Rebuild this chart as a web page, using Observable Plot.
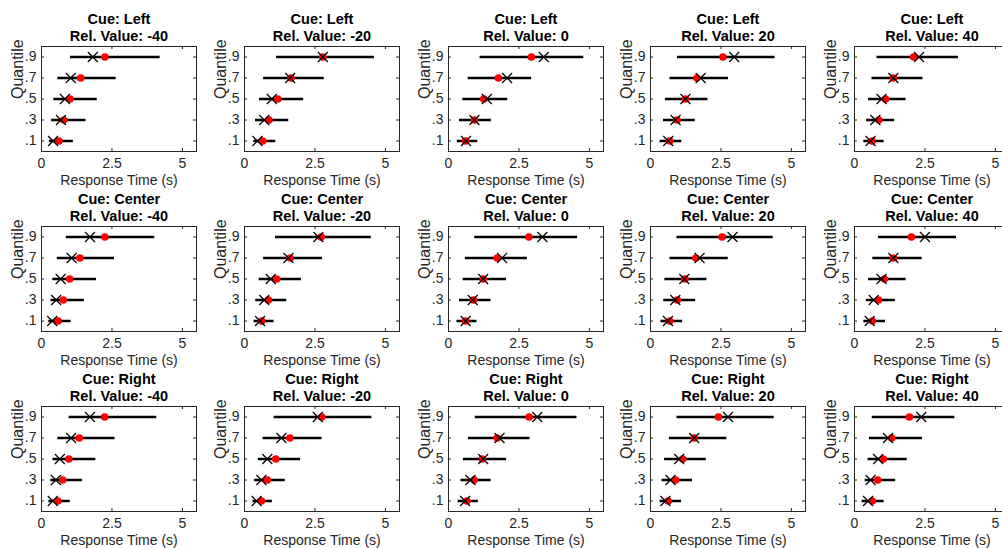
<!DOCTYPE html>
<html>
<head>
<meta charset="utf-8">
<script src="https://cdn.jsdelivr.net/npm/d3@7"></script>
<script src="https://cdn.jsdelivr.net/npm/@observablehq/plot@0.6"></script>
<style>
  html, body { margin: 0; padding: 0; background: white; }
  #chart { position: relative; width: 1002px; height: 548px; overflow: hidden; }
  #chart > div { position: absolute; width: 203px; }
  #chart svg { max-width: none !important; }
</style>
</head>
<body>
<div id="chart"></div>
<script>
const cues = ["Left", "Center", "Right"];
const relValues = [-40, -20, 0, 20, 40];
const quantiles = [0.1, 0.3, 0.5, 0.7, 0.9];
const quantileLabels = [".1", ".3", ".5", ".7", ".9"];
const xTicks = [0, 2.5, 5];
const xTickLabels = ["0", "2.5", "5"];
const xLabel = "Response Time (s)";
const yLabel = "Quantile";

// [cue][relValue][quantile]
const rangeLo = [
  [[0.28,0.36,0.44,0.58,1.03],[0.33,0.39,0.53,0.68,1.14],[0.31,0.39,0.51,0.70,1.12],[0.34,0.46,0.53,0.69,0.96],[0.33,0.43,0.50,0.62,0.80]],
  [[0.26,0.34,0.40,0.56,0.88],[0.34,0.40,0.52,0.68,1.10],[0.30,0.39,0.52,0.60,0.93],[0.37,0.47,0.51,0.69,0.94],[0.33,0.42,0.50,0.65,0.85]],
  [[0.26,0.33,0.41,0.58,0.98],[0.30,0.36,0.49,0.66,1.05],[0.34,0.44,0.53,0.71,0.95],[0.34,0.41,0.50,0.67,0.94],[0.27,0.38,0.48,0.53,0.63]]
];
const rangeHi = [
  [[1.13,1.58,1.98,2.65,4.21],[1.11,1.57,2.10,2.83,4.61],[1.04,1.52,2.10,2.95,4.80],[1.11,1.59,2.04,2.77,4.42],[1.05,1.42,1.83,2.43,3.69]],
  [[1.05,1.52,1.95,2.59,4.02],[1.05,1.50,2.02,2.77,4.50],[1.01,1.51,2.06,2.80,4.58],[1.14,1.60,2.00,2.76,4.35],[1.10,1.45,1.83,2.40,3.62]],
  [[1.02,1.45,1.93,2.61,4.09],[0.99,1.45,1.99,2.75,4.52],[1.06,1.51,2.06,2.89,4.56],[1.10,1.49,1.98,2.71,4.39],[1.05,1.46,1.87,2.41,3.56]]
];
const dataRT = [
  [[0.62,0.79,1.01,1.39,2.25],[0.65,0.87,1.18,1.65,2.78],[0.61,0.92,1.25,1.77,2.94],[0.68,0.94,1.24,1.65,2.57],[0.62,0.86,1.10,1.38,2.10]],
  [[0.59,0.77,1.00,1.36,2.25],[0.61,0.85,1.14,1.62,2.72],[0.61,0.88,1.23,1.73,2.85],[0.68,0.95,1.22,1.61,2.54],[0.63,0.85,1.06,1.38,2.02]],
  [[0.58,0.75,0.97,1.34,2.24],[0.60,0.81,1.11,1.61,2.74],[0.65,0.91,1.20,1.73,2.86],[0.63,0.89,1.14,1.55,2.41],[0.63,0.82,1.02,1.32,1.95]]
];
const modelRT = [
  [[0.41,0.69,0.83,1.04,1.82],[0.46,0.70,0.97,1.62,2.78],[0.62,0.92,1.36,2.08,3.38],[0.63,0.89,1.24,1.78,2.97],[0.57,0.74,0.96,1.38,2.29]],
  [[0.38,0.52,0.68,1.07,1.72],[0.55,0.70,0.93,1.56,2.62],[0.61,0.86,1.23,1.90,3.33],[0.62,0.88,1.20,1.74,2.91],[0.54,0.68,0.96,1.38,2.50]],
  [[0.40,0.51,0.65,1.05,1.72],[0.43,0.60,0.81,1.31,2.60],[0.59,0.78,1.23,1.81,3.15],[0.53,0.71,1.02,1.55,2.75],[0.48,0.57,0.84,1.19,2.37]]
];

// layout
const colLeft = [0, 202.7, 407.3, 609, 813];
const rowTop = [0, 180, 360];
const W = 203, H = 200, mL = 41, mR = 7, mT = 46, mB = 49;
const frameW = W - mL - mR, frameH = H - mT - mB;
const tickLen = 3;
const axisColor = "#262626";

const chart = document.getElementById("chart");

cues.forEach((cue, i) => {
  relValues.forEach((rv, j) => {
    const rows = quantiles.map((q, k) => ({
      q, lo: rangeLo[i][j][k], hi: rangeHi[i][j][k], dot: dataRT[i][j][k], cross: modelRT[i][j][k]
    }));
    const svg = Plot.plot({
      width: W, height: H,
      marginLeft: mL, marginRight: mR, marginTop: mT, marginBottom: mB,
      style: {background: "transparent", overflow: "visible", maxWidth: "none", fontFamily: "'Liberation Sans', Arial, sans-serif", fontSize: "14px", color: axisColor},
      x: {domain: [0, 5.5], ticks: xTicks, tickFormat: d => xTickLabels[xTicks.indexOf(d)], tickSize: 0, tickPadding: 7, label: null},
      y: {domain: [0, 1], ticks: quantiles, tickFormat: d => quantileLabels[quantiles.indexOf(d)], tickSize: 0, tickPadding: 5, label: null},
      marks: [
        Plot.tickX(xTicks, {x: d => d, insetTop: frameH - tickLen, stroke: axisColor}),
        Plot.tickX(xTicks, {x: d => d, insetBottom: frameH - tickLen, stroke: axisColor}),
        Plot.tickY(quantiles, {y: d => d, insetRight: frameW - tickLen, stroke: axisColor}),
        Plot.tickY(quantiles, {y: d => d, insetLeft: frameW - tickLen, stroke: axisColor}),
        Plot.frame({stroke: axisColor, strokeWidth: 1}),
        Plot.ruleY(rows, {y: "q", x1: "lo", x2: "hi", stroke: "black", strokeWidth: 2.5}),
        Plot.dot(rows, {x: "dot", y: "q", r: 3.8, fill: "#ff0000"}),
        Plot.dot(rows, {x: "cross", y: "q", symbol: "times", r: 4.6, stroke: "black", strokeWidth: 1.2}),
        Plot.text(["Cue: " + cue], {frameAnchor: "top", dy: -27, text: d => d, fontWeight: "bold", fontSize: 14.5, fill: "black", lineAnchor: "middle"}),
        Plot.text(["Rel. Value: " + rv], {frameAnchor: "top", dy: -10, text: d => d, fontWeight: "bold", fontSize: 14.5, fill: "black", lineAnchor: "middle"}),
        Plot.text([xLabel], {frameAnchor: "bottom", dy: 29, text: d => d, fontSize: 14, fill: axisColor, lineAnchor: "middle"}),
        Plot.text([yLabel], {frameAnchor: "left", dx: -24, rotate: -90, text: d => d, fontSize: 16, fill: axisColor, lineAnchor: "middle"})
      ]
    });
    const wrap = document.createElement("div");
    wrap.style.left = colLeft[j] + "px";
    wrap.style.top = rowTop[i] + "px";
    wrap.appendChild(svg);
    chart.appendChild(wrap);
  });
});
</script>
</body>
</html>
